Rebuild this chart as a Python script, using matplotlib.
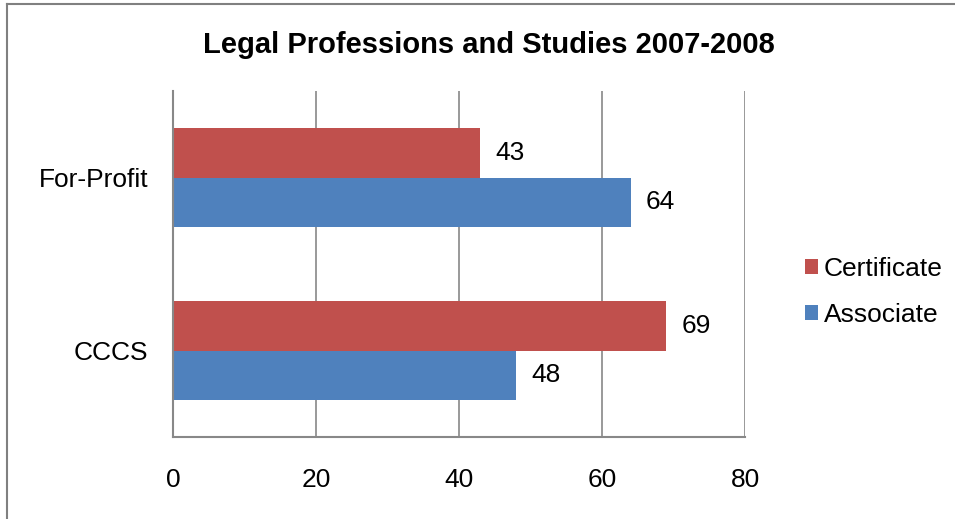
import numpy as np
import matplotlib.pyplot as plt
from matplotlib.lines import Line2D

plt.rcParams['font.family'] = ['Liberation Sans', 'DejaVu Sans']

# data
categories = ['CCCS', 'For-Profit']
certificate = [69, 43]
associate = [48, 64]
series_names = ['Certificate', 'Associate']
colors = ['#C0504D', '#4F81BD']
xticks = [0, 20, 40, 60, 80]

fig = plt.figure(figsize=(9.55, 5.19), dpi=100)
ax = fig.add_axes([173 / 955, 82 / 519, 572 / 955, 346 / 519])

y = np.arange(len(categories))
h = 0.286
b1 = ax.barh(y + h / 2, certificate, height=h, color=colors[0], label=series_names[0])
b2 = ax.barh(y - h / 2, associate, height=h, color=colors[1], label=series_names[1])

for bars in (b1, b2):
    for rect in bars:
        w = rect.get_width()
        ax.annotate(f'{w:g}', (w, rect.get_y() + rect.get_height() / 2),
                    xytext=(11, 0), textcoords='offset points',
                    ha='left', va='center', fontsize=19)

ax.set_xlim(0, 80)
ax.set_ylim(-0.5, 1.5)
ax.set_xticks(xticks)
ax.set_yticks(y)
ax.set_yticklabels(categories)
ax.tick_params(axis='both', length=0, labelsize=19)
ax.tick_params(axis='x', pad=22)
ax.tick_params(axis='y', pad=18)
ax.grid(axis='x', color='#888888', linewidth=1.2)
ax.set_axisbelow(True)
for s in ('top', 'right'):
    ax.spines[s].set_visible(False)
for s in ('left', 'bottom'):
    ax.spines[s].set_color('#888888')
    ax.spines[s].set_linewidth(1.5)

fig.text(489 / 955, 1 - 45 / 519, 'Legal Professions and Studies 2007-2008',
         ha='center', va='center', fontsize=21, fontweight='bold')

handles, labels = ax.get_legend_handles_labels()
fig.legend(handles, labels, loc='center left', bbox_to_anchor=(792 / 955, 1 - 292 / 519),
           frameon=False, fontsize=19, handlelength=0.5, handleheight=0.5,
           handletextpad=0.2, labelspacing=0.85, borderpad=0)

# chart border (top and left visible)
fig.add_artist(Line2D([7 / 955, 1], [1 - 4 / 519, 1 - 4 / 519], transform=fig.transFigure,
                      color='#808080', linewidth=1.5))
fig.add_artist(Line2D([7 / 955, 7 / 955], [0, 1 - 4 / 519], transform=fig.transFigure,
                      color='#808080', linewidth=1.5))

fig.savefig('out.png', dpi=100)
